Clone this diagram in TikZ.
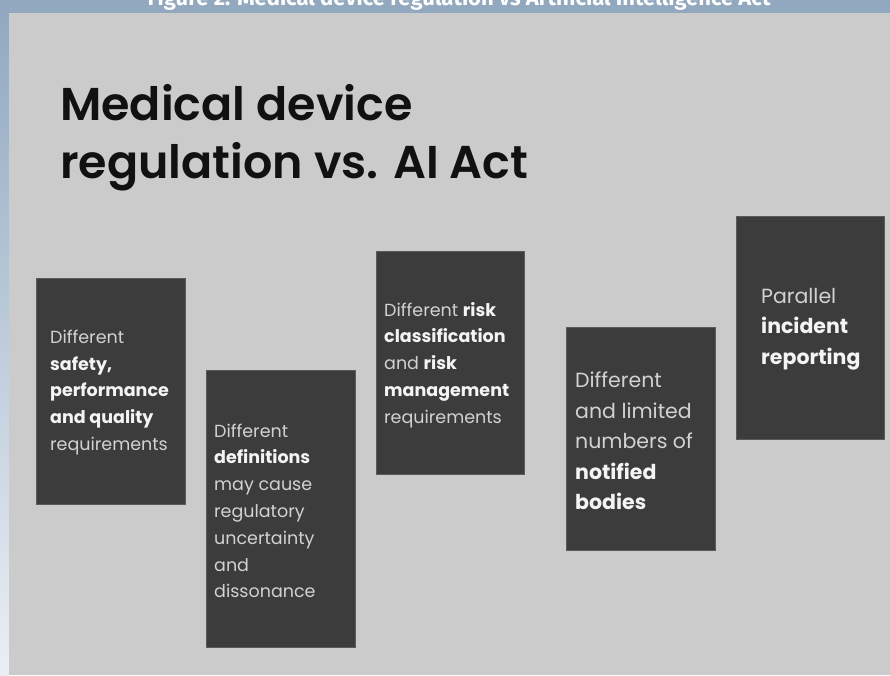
\documentclass[tikz,border=0pt]{standalone}
\usepackage{fontspec}
\setmainfont{Poppins}
\newfontfamily\capfont{Fira Sans}
\newfontfamily\titlefont{Poppins SemiBold}
\definecolor{barblue}{HTML}{91A8BF}
\definecolor{striptop}{HTML}{92A9C1}
\definecolor{stripbot}{HTML}{EAEFF5}
\definecolor{panelgray}{HTML}{CBCBCB}
\definecolor{boxgray}{HTML}{3C3C3C}
\definecolor{boxedge}{HTML}{5A5A5A}
\definecolor{txtreg}{HTML}{D2D2D2}
\definecolor{txtbold}{HTML}{F4F4F4}
\definecolor{titleink}{HTML}{111111}
\newcommand{\hb}[1]{{\bfseries\color{txtbold}#1}}
\tikzset{
  card/.style={draw=boxedge, line width=0.8pt, fill=boxgray, inner sep=0pt, anchor=north west},
  cardtxt/.style={anchor=west, inner sep=0pt, align=left, text=txtreg},
  smalltxt/.style={cardtxt, font=\fontsize{17.5}{26.8}\selectfont},
  bigtxt/.style={cardtxt, font=\fontsize{20.5}{30.5}\selectfont},
  headline/.style={anchor=base west, inner sep=0pt, text=titleink, font=\titlefont\fontsize{46}{56}\selectfont},
}
\begin{document}
\begin{tikzpicture}[x=1pt,y=1pt]
\useasboundingbox (0,0) rectangle (890,-675);
\begin{scope}
\clip (0,0) rectangle (890,-675);
% frame
\fill[barblue] (0,0) rectangle (890,-13);
\shade[top color=striptop, bottom color=stripbot] (0,-13) rectangle (9,-675);
\fill[panelgray] (9,-13) rectangle (890,-675);
% caption (cut by the top edge, as in the reference)
\node[anchor=base, inner sep=0pt, text=white, font=\capfont\bfseries\fontsize{22}{24}\selectfont] (caption) at (459,-5) {Figure 2: Medical device regulation vs Artificial Intelligence Act};
% title
\node[headline] (title1) at (60,-120) {Medical device};
\node[headline] (title2) at (60,-178) {regulation vs. AI Act};
% cards
\node[card, minimum width=149, minimum height=226] (b1) at (36,-278) {};
\node[card, minimum width=149, minimum height=277] (b2) at (206,-370) {};
\node[card, minimum width=148, minimum height=223] (b3) at (376,-251) {};
\node[card, minimum width=149, minimum height=223] (b4) at (566,-327) {};
\node[card, minimum width=148, minimum height=223] (b5) at (736,-216) {};
% card texts
\node[smalltxt] (t1) at ([xshift=14pt,yshift=-1pt]b1.west) {Different\\\hb{safety,}\\\hb{performance}\\\hb{and quality}\\requirements};
\node[smalltxt] (t2) at ([xshift=8pt,yshift=-2pt]b2.west) {Different\\\hb{definitions}\\may cause\\regulatory\\uncertainty\\and\\dissonance};
\node[smalltxt] (t3) at ([xshift=8pt,yshift=-2pt]b3.west) {Different \hb{risk}\\\hb{classification}\\and \hb{risk}\\\hb{management}\\requirements};
\node[bigtxt] (t4) at ([xshift=9pt,yshift=-2pt]b4.west) {Different\\and limited\\numbers of\\\hb{notified}\\\hb{bodies}};
\node[bigtxt] (t5) at ([xshift=25pt,yshift=-1pt]b5.west) {Parallel\\\hb{incident}\\\hb{reporting}};
\end{scope}
\end{tikzpicture}
\end{document}
